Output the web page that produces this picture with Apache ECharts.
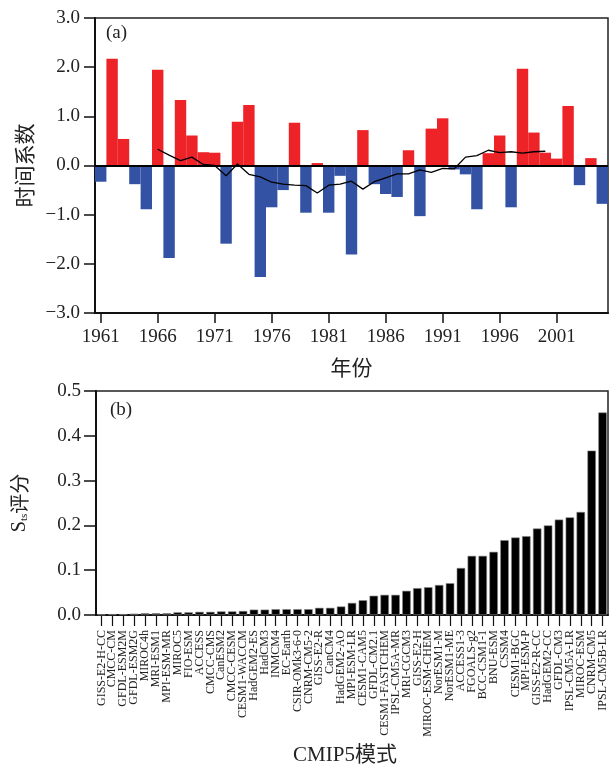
<!DOCTYPE html>
<html>
<head>
<meta charset="utf-8">
<script src="https://cdn.jsdelivr.net/npm/echarts@6/dist/echarts.min.js"></script>
<style>
html,body{margin:0;padding:0;background:#fff;}
#chart{width:612px;height:774px;}
</style>
</head>
<body>
<div id="chart"></div>
<script>
// ---- Panel (a): time coefficients ----
var years = [];
for (var y = 1961; y <= 2005; y++) years.push(String(y));
var timeCoef = [
  -0.33, 2.17, 0.54, -0.38, -0.89, 1.95, -1.88, 1.33, 0.61, 0.27,
  0.26, -1.59, 0.89, 1.23, -2.27, -0.85, -0.50, 0.87, -0.96, 0.05,
  -0.96, -0.21, -1.81, 0.72, -0.38, -0.58, -0.64, 0.31, -1.03, 0.75,
  0.96, -0.08, -0.18, -0.89, 0.25, 0.61, -0.85, 1.97, 0.67, 0.26,
  0.14, 1.21, -0.40, 0.15, -0.78
];
// smoothed curve (1966-2000)
var smoothYears = [];
for (var s = 1966; s <= 2000; s++) smoothYears.push(String(s));
var smoothVals = [
  0.33, 0.21, 0.10, 0.17, 0.02, 0.00, -0.21, 0.03, -0.18, -0.23,
  -0.34, -0.38, -0.40, -0.41, -0.56, -0.40, -0.38, -0.32, -0.48, -0.33,
  -0.25, -0.17, -0.17, -0.09, -0.14, -0.06, -0.07, 0.17, 0.20, 0.31,
  0.26, 0.28, 0.25, 0.28, 0.29
];

// ---- Panel (b): Sts scores of CMIP5 models ----
var models = [
  'GISS-E2-H-CC','CMCC-CM','GFDL-ESM2M','GFDL-ESM2G','MIROC4h','MRI-ESM1','MPI-ESM-MR',
  'MIROC5','FIO-ESM','ACCESS','CMCC-CMS','CanESM2','CMCC-CESM','CESM1-WACCM',
  'HadGEM2-ES','HadCM3','INMCM4','EC-Earth','CSIR-OMk3-6-0','CNRM-CM5-2','GISS-E2-R',
  'CanCM4','HadGEM2-AO','MPI-ESM-LR','CESM1-CAM5','GFDL-CM2.1','CESM1-FASTCHEM',
  'IPSL-CM5A-MR','MRI-CGCM3','GISS-E2-H','MIROC-ESM-CHEM','NorESM1-M','NorESM1-ME',
  'ACCESS1-3','FGOALS-g2','BCC-CSM1-1','BNU-ESM','CSSM4','CESM1-BGC','MPI-ESM-P',
  'GISS-E2-R-CC','HadGEM2-CC','GFDL-CM3','IPSL-CM5A-LR','MIROC-ESM','CNRM-CM5','IPSL-CM5B-LR'
];
var stsScore = [
  0.001, 0.002, 0.002, 0.003, 0.004, 0.004, 0.004, 0.006, 0.006, 0.007,
  0.007, 0.008, 0.008, 0.009, 0.012, 0.012, 0.013, 0.013, 0.013, 0.013,
  0.016, 0.016, 0.019, 0.027, 0.033, 0.043, 0.045, 0.045, 0.054, 0.060,
  0.062, 0.067, 0.071, 0.105, 0.132, 0.132, 0.141, 0.167, 0.173, 0.176,
  0.193, 0.200, 0.213, 0.218, 0.230, 0.367, 0.452
];

var RED = '#EE2328', BLUE = '#3352A3';
var SERIF = "'Liberation Serif', 'Noto Sans CJK SC', serif";
var CJK = "'Noto Sans CJK SC', 'Liberation Serif', sans-serif";

function fmt1(v){ return (v < 0 ? '\u2212' : '') + Math.abs(v).toFixed(1); }

var chart = echarts.init(document.getElementById('chart'), null, {renderer:'canvas'});
var option = {
  backgroundColor: '#fff',
  animation: false,
  textStyle: {fontFamily: SERIF},
  grid: [
    {left: 95, top: 18, width: 513, height: 295, show: true, borderColor: '#222', borderWidth: 1.5, containLabel: false},
    {left: 96, top: 391, width: 512, height: 224, show: true, borderColor: '#222', borderWidth: 1.5, containLabel: false}
  ],
  xAxis: [
    {
      type: 'category', gridIndex: 0, data: years, boundaryGap: true,
      axisLine: {onZero: false, lineStyle: {color: '#111', width: 2}},
      axisTick: {show: true, interval: 4, alignWithLabel: true, length: 10, lineStyle: {color: '#111', width: 1.5}},
      axisLabel: {interval: 4, color: '#222', fontSize: 19, fontFamily: SERIF, margin: 15},
      name: '年份', nameLocation: 'middle', nameGap: 44,
      nameTextStyle: {fontSize: 21, fontFamily: CJK, color: '#222'}
    },
    {
      type: 'category', gridIndex: 1, data: models, boundaryGap: true,
      axisLine: {onZero: false, lineStyle: {color: '#111', width: 2}},
      axisTick: {show: true, interval: 0, alignWithLabel: true, length: 11, lineStyle: {color: '#111', width: 1.2}},
      axisLabel: {interval: 0, rotate: 90, color: '#222', fontSize: 12, fontFamily: SERIF, margin: 15},
      name: 'CMIP5模式', nameLocation: 'middle', nameGap: 130,
      nameTextStyle: {fontSize: 21, fontFamily: SERIF, color: '#222', padding: [0, 14, 0, 0]}
    }
  ],
  yAxis: [
    {
      type: 'value', gridIndex: 0, min: -3, max: 3, interval: 1,
      axisLine: {show: true, lineStyle: {color: '#111', width: 2}},
      axisTick: {show: true, length: 11, lineStyle: {color: '#111', width: 1.5}},
      axisLabel: {formatter: fmt1, color: '#222', fontSize: 19, fontFamily: SERIF, margin: 15},
      splitLine: {show: false},
      name: '时间系数', nameLocation: 'middle', nameRotate: 90, nameGap: 58,
      nameTextStyle: {fontSize: 21, fontFamily: CJK, color: '#222'}
    },
    {
      type: 'value', gridIndex: 1, min: 0, max: 0.5, interval: 0.1,
      axisLine: {show: true, lineStyle: {color: '#111', width: 2}},
      axisTick: {show: true, length: 12, lineStyle: {color: '#111', width: 1.5}},
      axisLabel: {formatter: function(v){return v.toFixed(1);}, color: '#222', fontSize: 19, fontFamily: SERIF, margin: 15},
      splitLine: {show: false},
      name: '{s|S}{sub|ts}{c|评分}', nameLocation: 'middle', nameRotate: 90, nameGap: 66,
      nameTextStyle: {
        color: '#222',
        rich: {
          s: {fontSize: 20, fontFamily: SERIF, color: '#222'},
          sub: {fontSize: 11, fontFamily: SERIF, color: '#222', verticalAlign: 'bottom', padding: [10, 0, 0, 0]},
          c: {fontSize: 20, fontFamily: CJK, color: '#222'}
        }
      }
    }
  ],
  series: [
    {
      type: 'bar', xAxisIndex: 0, yAxisIndex: 0, barCategoryGap: '0%',
      data: timeCoef.map(function(v){ return {value: v, itemStyle: {color: v >= 0 ? RED : BLUE}}; }),
      itemStyle: {borderWidth: 0},
      markLine: {
        silent: true, symbol: ['none','none'], label: {show: false},
        lineStyle: {color: '#000', width: 2, type: 'solid'},
        data: [{yAxis: 0}]
      }
    },
    {
      type: 'line', xAxisIndex: 0, yAxisIndex: 0,
      data: smoothYears.map(function(yr, i){ return [yr, smoothVals[i]]; }),
      showSymbol: false, symbol: 'none',
      lineStyle: {color: '#000', width: 1.3}, z: 5
    },
    {
      type: 'bar', xAxisIndex: 1, yAxisIndex: 1, barCategoryGap: '22%',
      data: stsScore,
      itemStyle: {color: '#000', borderColor: '#888', borderWidth: 0.6}
    }
  ],
  graphic: [
    {type: 'text', left: 106, top: 24, style: {text: '(a)', font: "19px 'Liberation Serif', serif", fill: '#222'}},
    {type: 'text', left: 110, top: 401, style: {text: '(b)', font: "19px 'Liberation Serif', serif", fill: '#222'}}
  ]
};
chart.setOption(option);
</script>
</body>
</html>
